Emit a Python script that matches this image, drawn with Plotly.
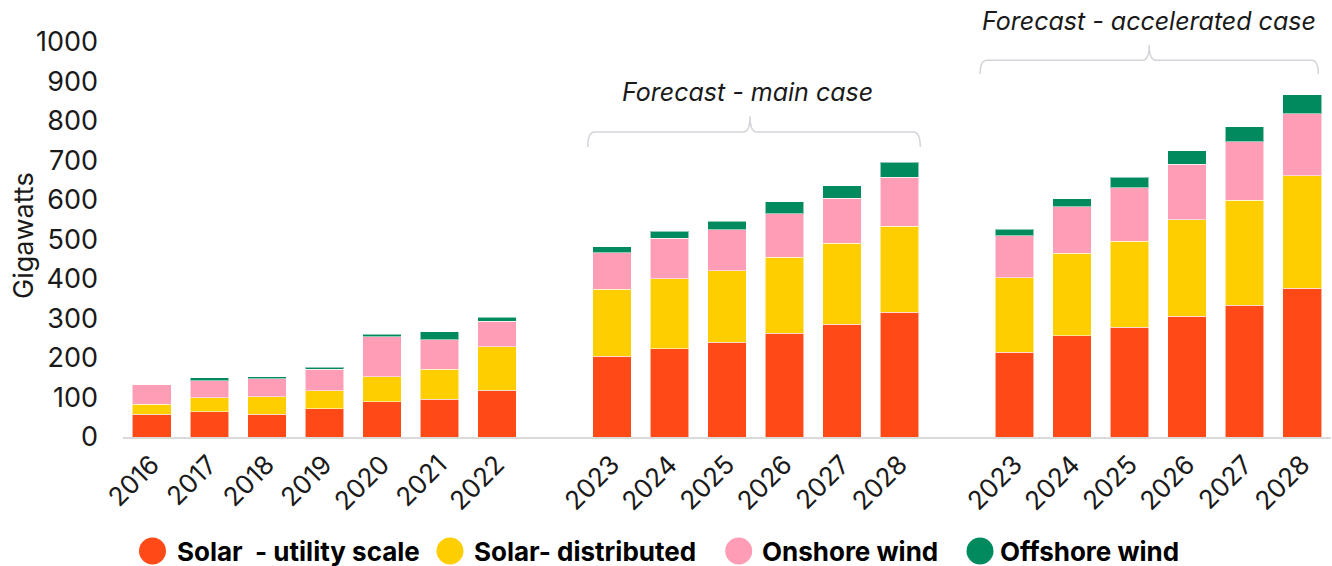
import plotly.graph_objects as go

# ---------------- data ----------------
hist_years = ["2016", "2017", "2018", "2019", "2020", "2021", "2022"]
fc_years = ["2023", "2024", "2025", "2026", "2027", "2028"]

solar_utility_hist = [58, 64, 58, 71, 89, 95, 118]
solar_dist_hist = [25, 36, 44, 46, 63, 77, 111]
onshore_hist = [49, 43, 46, 54, 102, 74, 64]
offshore_hist = [0, 7, 5, 6, 6, 20, 10]

solar_utility_main = [204, 223, 240, 263, 286, 316]
solar_dist_main = [170, 178, 181, 192, 204, 218]
onshore_main = [93, 102, 104, 110, 114, 123]
offshore_main = [15, 18, 21, 30, 32, 39]

solar_utility_acc = [215, 256, 278, 306, 334, 377]
solar_dist_acc = [188, 209, 217, 244, 266, 285]
onshore_acc = [107, 118, 136, 140, 147, 156]
offshore_acc = [16, 20, 26, 35, 39, 48]

series_names = ["Solar  - utility scale", "Solar- distributed", "Onshore wind", "Offshore wind"]
colors = ["#FF4A17", "#FFCE00", "#FF9CB6", "#008A5E"]

# ---------------- positions (computed from group sizes) ----------------
gap = 1
x_hist = list(range(len(hist_years)))
x_main = [x_hist[-1] + 1 + gap + i for i in range(len(fc_years))]
x_acc = [x_main[-1] + 1 + gap + i for i in range(len(fc_years))]
x_all = x_hist + x_main + x_acc
tick_text = hist_years + fc_years + fc_years

series_vals = [
    solar_utility_hist + solar_utility_main + solar_utility_acc,
    solar_dist_hist + solar_dist_main + solar_dist_acc,
    onshore_hist + onshore_main + onshore_acc,
    offshore_hist + offshore_main + offshore_acc,
]

FONT = "Inter, 'Noto Sans', Arial, sans-serif"
TXT = "#1a1a1a"

fig = go.Figure()
for name, vals, col in zip(series_names, series_vals, colors):
    fig.add_trace(go.Bar(
        x=x_all, y=vals, name=name,
        marker=dict(color=col, line=dict(color="rgba(255,255,255,0.55)", width=1)),
        showlegend=False,
    ))

W, H = 1332, 566
L, R, T, B = 123, 1, 42, 129
pw, ph = W - L - R, H - T - B


def px2paper(px, py):
    return (px - L) / pw, (H - B - py) / ph


def xdata2px(x):
    return L + (x + 0.5) / (x_all[-1] + 1) * pw


def brace(x0, x1, xm, y_end, y_h, y_peak, r=0.12):
    return (f"M {x0},{y_end} Q {x0},{y_h} {x0 + r},{y_h} L {xm - r},{y_h} "
            f"Q {xm},{y_h} {xm},{y_peak} Q {xm},{y_h} {xm + r},{y_h} "
            f"L {x1 - r},{y_h} Q {x1},{y_h} {x1},{y_end}")


shapes = []
annotations = []

# main-case bracket + label
mid_main = (x_main[0] + x_main[-1]) / 2 - 0.1
shapes.append(dict(type="path", xref="x", yref="y",
                   path=brace(x_main[0] - 0.42, x_main[-1] + 0.36, mid_main, 734, 772, 812),
                   line=dict(color="#d3d3da", width=1.5)))
annotations.append(dict(x=mid_main - 0.05, y=873, xref="x", yref="y", text="<i>Forecast - main case</i>",
                        xanchor="center", yanchor="middle",
                        showarrow=False, font=dict(family=FONT, size=25, color=TXT)))

# accelerated-case bracket + label
mid_acc = (x_acc[0] + x_acc[-1]) / 2 - 0.16
shapes.append(dict(type="path", xref="x", yref="y",
                   path=brace(x_acc[0] - 0.6, x_acc[-1] + 0.28, mid_acc, 919, 954, 992),
                   line=dict(color="#d3d3da", width=1.5)))
ax_acc, ay_acc = px2paper(xdata2px(mid_acc), 21)
annotations.append(dict(x=ax_acc, y=ay_acc, xref="paper", yref="paper",
                        text="<i>Forecast - accelerated case</i>",
                        xanchor="center", yanchor="middle",
                        showarrow=False, font=dict(family=FONT, size=25, color=TXT)))

# y-axis title
gx, gy = px2paper(23, 235)
annotations.append(dict(x=gx, y=gy, xref="paper", yref="paper", text="Gigawatts", textangle=-90,
                        xanchor="center", yanchor="middle",
                        showarrow=False, font=dict(family=FONT, size=27, color=TXT)))

# custom legend (large circles)
leg_circles = [152.5, 450, 738.7, 980]
leg_text_x = [175, 471.7, 759.6, 998]
leg_y = 551
rad = 13.5
for cx, tx, name, col in zip(leg_circles, leg_text_x, series_names, colors):
    x0, y0 = px2paper(cx - rad, leg_y + rad)
    x1, y1 = px2paper(cx + rad, leg_y - rad)
    shapes.append(dict(type="circle", xref="paper", yref="paper", x0=x0, x1=x1, y0=y0, y1=y1,
                       fillcolor=col, line=dict(width=0)))
    ax, ay = px2paper(tx, leg_y)
    annotations.append(dict(x=ax, y=ay, xref="paper", yref="paper", xanchor="left", yanchor="middle",
                            text=f"<b>{name}</b>", showarrow=False,
                            font=dict(family=FONT, size=26, color="#000000")))

fig.update_layout(
    width=W, height=H,
    margin=dict(l=L, r=R, t=T, b=B, pad=0),
    paper_bgcolor="white", plot_bgcolor="white",
    barmode="stack", bargap=0.33,
    font=dict(family=FONT, color=TXT),
    shapes=shapes, annotations=annotations,
    showlegend=False,
)
fig.update_xaxes(
    range=[-0.5, x_all[-1] + 0.5], tickmode="array", tickvals=x_all, ticktext=tick_text,
    tickangle=-45, tickfont=dict(family=FONT, size=26, color=TXT),
    showgrid=False, zeroline=False, showline=True, linecolor="#dadada", linewidth=2,
    ticks="",
)
fig.update_yaxes(
    range=[0, 1000], dtick=100, tickfont=dict(family=FONT, size=27, color=TXT),
    showgrid=False, zeroline=False, showline=False, ticks="", ticklabelstandoff=24,
)

fig.write_html("out.html")
